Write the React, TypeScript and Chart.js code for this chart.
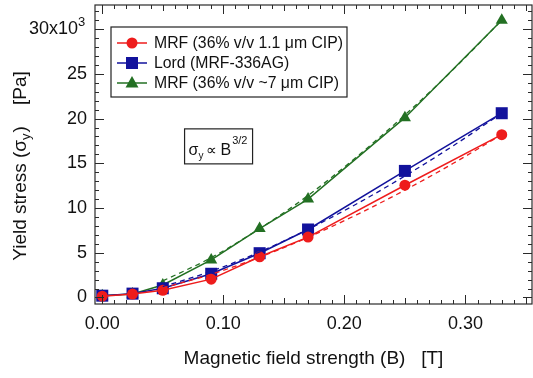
import React, { useEffect, useRef } from 'react';
import { Chart, registerables } from 'chart.js';

Chart.register(...registerables);

// ---- data ----
const fieldB = [0, 0.025, 0.05, 0.09, 0.13, 0.17, 0.25, 0.33];
const mrfSmall = [150, 380, 800, 2050, 4550, 6750, 12550, 18200];
const lordMrf = [200, 430, 1030, 2650, 4950, 7600, 14150, 20600];
const mrfLarge = [200, 400, 1400, 4200, 7700, 11000, 20100, 31000];

const fitB = [0.05, 0.09, 0.13, 0.17, 0.21, 0.25, 0.29, 0.33];
const fitSmall = [1070, 2590, 4500, 6730, 9240, 12000, 15000, 18200];
const fitLord = [1210, 2930, 5090, 7620, 10450, 13580, 16970, 20600];
const fitLarge = [1850, 4450, 7700, 11400, 15700, 20400, 25500, 31000];

const seriesLabels = ['MRF (36% v/v 1.1 \u03bcm CIP)', 'Lord (MRF-336AG)', 'MRF (36% v/v ~7 \u03bcm CIP)'];
const xTickValues = [0, 0.1, 0.2, 0.3];
const xTickLabels = ['0.00', '0.10', '0.20', '0.30'];
const yTickValues = [0, 5000, 10000, 15000, 20000, 25000, 30000];
const yTickLabels = ['0', '5', '10', '15', '20', '25', '30x10'];

const RED = '#ee1c1c';
const BLUE = '#12129c';
const GREEN = '#237023';
const FONT = "'Liberation Sans', Arial, sans-serif";

const pts = (xs: number[], ys: number[]) => xs.map((x, i) => ({ x, y: ys[i] }));

function drawMarker(ctx: CanvasRenderingContext2D, style: string, x: number, y: number, color: string) {
  ctx.fillStyle = color;
  ctx.beginPath();
  if (style === 'circle') {
    ctx.arc(x, y, 5.5, 0, Math.PI * 2);
  } else if (style === 'rect') {
    ctx.rect(x - 6, y - 6, 12, 12);
  } else {
    ctx.moveTo(x, y - 7);
    ctx.lineTo(x + 6.5, y + 4.5);
    ctx.lineTo(x - 6.5, y + 4.5);
    ctx.closePath();
  }
  ctx.fill();
}

const decor = {
  id: 'decor',
  afterDraw(chart: any) {
    const { ctx, chartArea: a, scales } = chart;
    const x = scales.x;
    const y = scales.y;
    ctx.save();
    // frame
    ctx.strokeStyle = '#2a2a2a';
    ctx.lineWidth = 1.2;
    ctx.strokeRect(a.left, a.top, a.right - a.left, a.bottom - a.top);
    // ticks (inward, on all sides)
    ctx.lineWidth = 1;
    ctx.beginPath();
    for (let i = 0; i <= 40; i++) {
      const v = i / 100;
      const px = Math.round(x.getPixelForValue(v)) + 0.5;
      if (px < a.left || px > a.right) continue;
      const len = i % 10 === 0 ? 9 : i % 5 === 0 ? 6 : 4;
      ctx.moveTo(px, a.bottom);
      ctx.lineTo(px, a.bottom - len);
      ctx.moveTo(px, a.top);
      ctx.lineTo(px, a.top + len);
    }
    for (let i = 0; i <= 40; i++) {
      const v = i * 1000;
      const py = Math.round(y.getPixelForValue(v)) + 0.5;
      if (py < a.top || py > a.bottom) continue;
      const len = i % 5 === 0 ? 9 : 4;
      ctx.moveTo(a.left, py);
      ctx.lineTo(a.left + len, py);
      ctx.moveTo(a.right, py);
      ctx.lineTo(a.right - len, py);
    }
    ctx.stroke();

    // tick labels
    ctx.fillStyle = '#111';
    ctx.font = `18px ${FONT}`;
    ctx.textBaseline = 'middle';
    ctx.textAlign = 'center';
    xTickValues.forEach((v, i) => {
      ctx.fillText(xTickLabels[i], x.getPixelForValue(v), a.bottom + 20);
    });
    ctx.textAlign = 'right';
    yTickValues.forEach((v, i) => {
      const py = y.getPixelForValue(v);
      if (i === yTickValues.length - 1) {
        ctx.fillText(yTickLabels[i], a.left - 17, py);
        ctx.font = `13px ${FONT}`;
        ctx.textAlign = 'left';
        ctx.fillText('3', a.left - 17, py - 7);
        ctx.font = `18px ${FONT}`;
        ctx.textAlign = 'right';
      } else {
        ctx.fillText(yTickLabels[i], a.left - 8, py);
      }
    });

    // x title
    ctx.textAlign = 'center';
    ctx.font = `19px ${FONT}`;
    ctx.fillText('Magnetic field strength (B)   [T]', (a.left + a.right) / 2, 359);

    // y title (rotated, with subscript)
    ctx.save();
    ctx.translate(19, 166);
    ctx.rotate(-Math.PI / 2);
    const p1 = 'Yield stress (\u03c3';
    const p2 = 'y';
    const p3 = ')    [Pa]';
    ctx.font = `19px ${FONT}`;
    const w1 = ctx.measureText(p1).width;
    const w3 = ctx.measureText(p3).width;
    ctx.font = `13px ${FONT}`;
    const w2 = ctx.measureText(p2).width;
    const total = w1 + w2 + w3 + 1;
    let cx = -total / 2;
    ctx.textAlign = 'left';
    ctx.textBaseline = 'alphabetic';
    ctx.font = `19px ${FONT}`;
    ctx.fillText(p1, cx, 7);
    cx += w1;
    ctx.font = `13px ${FONT}`;
    ctx.fillText(p2, cx, 11);
    cx += w2 + 1;
    ctx.font = `19px ${FONT}`;
    ctx.fillText(p3, cx, 7);
    ctx.restore();

    // legend
    const lx = a.left + 16;
    const ly = a.top + 22;
    ctx.fillStyle = '#fff';
    ctx.fillRect(lx, ly, 236, 70);
    ctx.strokeStyle = '#222';
    ctx.lineWidth = 1.2;
    ctx.strokeRect(lx, ly, 236, 70);
    const legendColors = [RED, BLUE, GREEN];
    const legendMarkers = ['circle', 'rect', 'triangle'];
    ctx.font = `15.8px ${FONT}`;
    ctx.textBaseline = 'middle';
    ctx.textAlign = 'left';
    seriesLabels.forEach((lab, i) => {
      const ry = ly + 16 + i * 20;
      ctx.strokeStyle = legendColors[i];
      ctx.lineWidth = 1.5;
      ctx.beginPath();
      ctx.moveTo(lx + 6, ry);
      ctx.lineTo(lx + 36, ry);
      ctx.stroke();
      drawMarker(ctx, legendMarkers[i], lx + 21, ry, legendColors[i]);
      ctx.fillStyle = '#111';
      ctx.fillText(lab, lx + 43, ry + 1);
    });

    // annotation box sigma_y ∝ B^{3/2}
    const bx = x.getPixelForValue(0.068);
    const by = y.getPixelForValue(18850);
    ctx.fillStyle = '#fff';
    ctx.fillRect(bx, by, 68, 35);
    ctx.strokeStyle = '#222';
    ctx.lineWidth = 1.2;
    ctx.strokeRect(bx, by, 68, 35);
    ctx.fillStyle = '#111';
    ctx.textBaseline = 'alphabetic';
    ctx.font = `16px ${FONT}`;
    let tx = bx + 4;
    const base = by + 26;
    ctx.fillText('\u03c3', tx, base);
    tx += ctx.measureText('\u03c3').width;
    ctx.font = `10px ${FONT}`;
    ctx.fillText('y', tx, base + 4);
    tx += ctx.measureText('y').width + 3;
    ctx.font = `15px ${FONT}`;
    ctx.fillText('\u221d', tx, base);
    tx += ctx.measureText('\u221d').width + 3;
    ctx.font = `16px ${FONT}`;
    ctx.fillText('B', tx, base);
    tx += ctx.measureText('B').width + 1;
    ctx.font = `11px ${FONT}`;
    ctx.fillText('3/2', tx, base - 11);
    ctx.restore();
  },
};

export default function App() {
  const ref = useRef<HTMLCanvasElement | null>(null);
  useEffect(() => {
    if (!ref.current) return;
    const line = (data: number[], color: string, style: string, radius: number) => ({
      data: pts(fieldB, data),
      borderColor: color,
      backgroundColor: color,
      borderWidth: 1.5,
      pointStyle: style,
      pointRadius: radius,
      pointBorderWidth: 0,
      showLine: true,
      tension: 0,
    });
    const fit = (data: number[], color: string) => ({
      data: pts(fitB, data),
      borderColor: color,
      borderWidth: 1.3,
      borderDash: [5, 4],
      pointRadius: 0,
      showLine: true,
      cubicInterpolationMode: 'monotone' as const,
    });
    const chart = new Chart(ref.current, {
      type: 'scatter',
      data: {
        datasets: [
          fit(fitSmall, RED),
          fit(fitLord, BLUE),
          fit(fitLarge, GREEN),
          line(mrfSmall, RED, 'circle', 5.5),
          line(lordMrf, BLUE, 'rect', 8.5),
          line(mrfLarge, GREEN, 'triangle', 7),
        ] as any,
      },
      options: {
        animation: false,
        responsive: false,
        devicePixelRatio: 1,
        layout: { autoPadding: false, padding: { left: 95, top: 5, right: 1, bottom: 74 } },
        plugins: { legend: { display: false }, tooltip: { enabled: false } },
        scales: {
          x: { type: 'linear', min: -0.006, max: 0.355, display: false },
          y: { type: 'linear', min: -730, max: 32700, display: false },
        },
      },
      plugins: [decor],
    });
    return () => chart.destroy();
  }, []);
  return (
    <div style={{ position: 'absolute', left: 0, top: 0, width: 533, height: 378, background: '#fff' }}>
      <canvas ref={ref} width={533} height={378} />
    </div>
  );
}
